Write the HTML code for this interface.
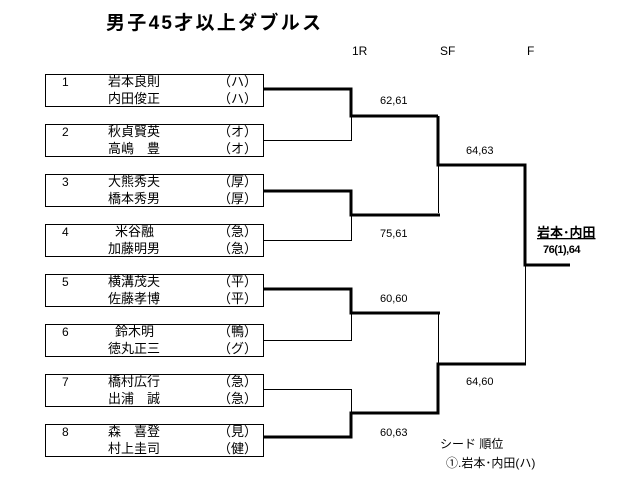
<!DOCTYPE html>
<html><head><meta charset="utf-8"><style>
body{margin:0;background:#fff;}
svg{display:block;font-family:"Liberation Sans","Noto Sans CJK JP",sans-serif;}
</style></head><body>
<svg width="626" height="490" viewBox="0 0 626 490" xmlns="http://www.w3.org/2000/svg">
<rect width="626" height="490" fill="#fff"/>
<text x="106" y="29" font-size="19" font-weight="bold" textLength="215" lengthAdjust="spacing">男子45才以上ダブルス</text>
<g font-size="12" fill="#000">
<text x="352" y="55">1R</text><text x="440" y="55">SF</text><text x="527" y="55">F</text>
</g>
<g fill="none" stroke="#000" stroke-width="1">
<rect x="45.5" y="74.5" width="218" height="32"/>
<rect x="45.5" y="124.5" width="218" height="32"/>
<rect x="45.5" y="174.5" width="218" height="32"/>
<rect x="45.5" y="224.5" width="218" height="32"/>
<rect x="45.5" y="274.5" width="218" height="32"/>
<rect x="45.5" y="324.5" width="218" height="32"/>
<rect x="45.5" y="374.5" width="218" height="32"/>
<rect x="45.5" y="424.5" width="218" height="32"/>
</g>
<g font-size="13" fill="#000">
<text x="62" y="86" font-size="12">1</text><text x="108" y="86">岩本良則</text><text x="218" y="86">（ハ）</text>
<text x="108" y="103">内田俊正</text><text x="218" y="103">（ハ）</text>
<text x="62" y="136" font-size="12">2</text><text x="108" y="136">秋貞賢英</text><text x="218" y="136">（オ）</text>
<text x="108" y="153">高嶋　豊</text><text x="218" y="153">（オ）</text>
<text x="62" y="186" font-size="12">3</text><text x="108" y="186">大熊秀夫</text><text x="218" y="186">（厚）</text>
<text x="108" y="203">橋本秀男</text><text x="218" y="203">（厚）</text>
<text x="62" y="236" font-size="12">4</text><text x="115" y="236">米谷融</text><text x="218" y="236">（急）</text>
<text x="108" y="253">加藤明男</text><text x="218" y="253">（急）</text>
<text x="62" y="286" font-size="12">5</text><text x="108" y="286">横溝茂夫</text><text x="218" y="286">（平）</text>
<text x="108" y="303">佐藤孝博</text><text x="218" y="303">（平）</text>
<text x="62" y="336" font-size="12">6</text><text x="115" y="336">鈴木明</text><text x="218" y="336">（鴨）</text>
<text x="108" y="353">徳丸正三</text><text x="218" y="353">（グ）</text>
<text x="62" y="386" font-size="12">7</text><text x="108" y="386">橋村広行</text><text x="218" y="386">（急）</text>
<text x="108" y="403">出浦　誠</text><text x="218" y="403">（急）</text>
<text x="62" y="436" font-size="12">8</text><text x="108" y="436">森　喜登</text><text x="218" y="436">（見）</text>
<text x="108" y="453">村上圭司</text><text x="218" y="453">（健）</text>
</g>
<g fill="none" stroke="#000" stroke-width="1">
<polyline points="263,140.5 351.5,140.5 351.5,117"/>
<polyline points="263,240.5 351.5,240.5 351.5,215"/>
<polyline points="438.5,165 438.5,213"/>
<polyline points="263,340.5 351.5,340.5 351.5,313"/>
<polyline points="263,389.5 351.5,389.5 351.5,413"/>
<polyline points="438.5,313 438.5,364"/>
<polyline points="525.5,265 525.5,364"/>
</g>
<g fill="none" stroke="#000" stroke-width="3" stroke-linejoin="miter">
<polyline points="263,89 351,89 351,116 438,116"/>
<polyline points="438,116 438,165 525,165 525,265 570,265"/>
<polyline points="263,191 351,191 351,215 440,215"/>
<polyline points="263,289 351,289 351,313 440,313"/>
<polyline points="263,437 351,437 351,413 438,413 438,364 526,364"/>
</g>
<g font-size="11" fill="#000">
<text x="380" y="104">62,61</text>
<text x="466" y="154">64,63</text>
<text x="380" y="237">75,61</text>
<text x="380" y="302">60,60</text>
<text x="466" y="385">64,60</text>
<text x="380" y="436">60,63</text>
</g>
<text x="537" y="237" font-size="13" font-weight="bold" text-decoration="underline">岩本･内田</text>
<text x="543" y="253" font-size="11" font-weight="bold" letter-spacing="-0.5">76(1),64</text>
<text x="440" y="448" font-size="12">シード 順位</text>
<text x="446" y="467" font-size="12">①.岩本･内田(ハ)</text>
</svg>
</body></html>
